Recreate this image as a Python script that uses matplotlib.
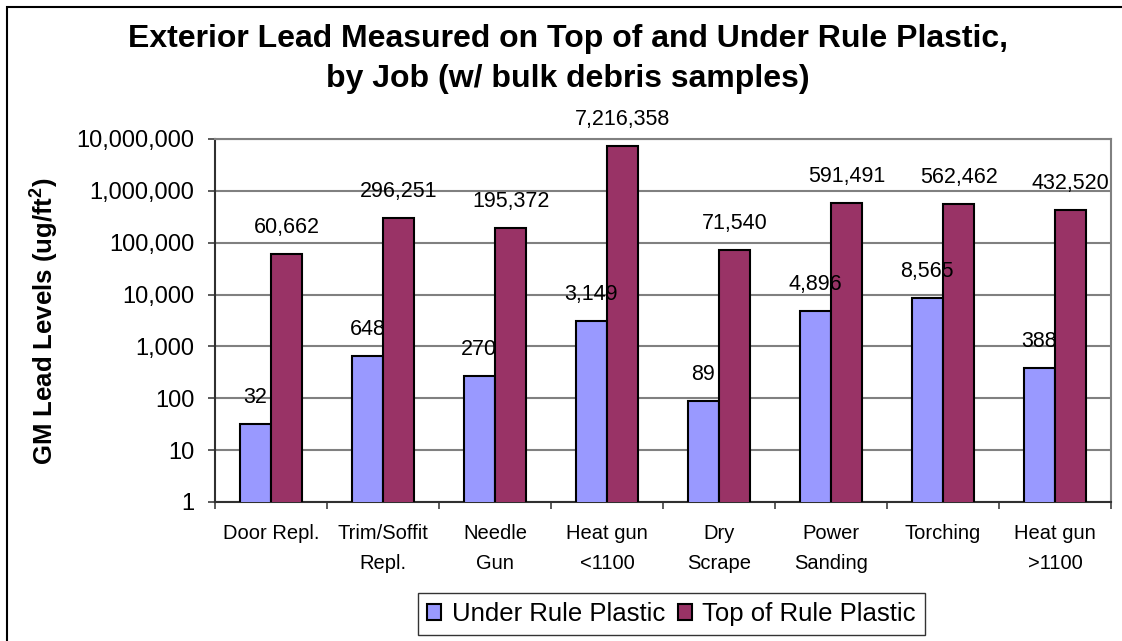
import numpy as np
import matplotlib
matplotlib.use('Agg')
import matplotlib.pyplot as plt
import matplotlib.patches as patches
from matplotlib.ticker import FuncFormatter, FixedLocator, NullFormatter

plt.rcParams['font.family'] = ['Liberation Sans', 'DejaVu Sans']
plt.rcParams['mathtext.fontset'] = 'custom'
plt.rcParams['mathtext.rm'] = 'Liberation Sans'
plt.rcParams['mathtext.bf'] = 'Liberation Sans:bold'

jobs = ["Door Repl.", "Trim/Soffit\nRepl.", "Needle\nGun", "Heat gun\n<1100",
        "Dry\nScrape", "Power\nSanding", "Torching", "Heat gun\n>1100"]
under_plastic = [32, 648, 270, 3149, 89, 4896, 8565, 388]
top_plastic = [60662, 296251, 195372, 7216358, 71540, 591491, 562462, 432520]

W, H = 1122, 641
fig = plt.figure(figsize=(W / 100, H / 100), dpi=100)
ax = fig.add_axes([215 / W, 1 - 502 / H, (1111 - 215) / W, (502 - 139) / H])

x = np.arange(len(jobs))
bw = 0.28
b1 = ax.bar(x - bw / 2, under_plastic, bw, color='#9999FF', edgecolor='black',
            linewidth=1.5, label='Under Rule Plastic', zorder=3)
b2 = ax.bar(x + bw / 2, top_plastic, bw, color='#993366', edgecolor='black',
            linewidth=1.5, label='Top of Rule Plastic', zorder=3)

for bars, vals in ((b1, under_plastic), (b2, top_plastic)):
    for b, v in zip(bars, vals):
        ax.annotate(f"{v:,}", (b.get_x() + b.get_width() / 2, v),
                    xytext=(0, 19), textcoords='offset points',
                    ha='center', va='center', fontsize=15.5, zorder=4)

ax.set_yscale('log')
ax.set_ylim(1, 1e7)
ax.set_xlim(-0.5, len(jobs) - 0.5)
ax.yaxis.set_major_locator(FixedLocator([10 ** i for i in range(8)]))
ax.yaxis.set_minor_locator(FixedLocator([]))
ax.yaxis.set_major_formatter(FuncFormatter(lambda v, p: f"{int(round(v)):,}"))
ax.tick_params(axis='y', labelsize=17, length=5, width=1.2, pad=10, color='#404040')
ax.grid(axis='y', color='#808080', linewidth=1.5, zorder=0)

ax.xaxis.set_major_locator(FixedLocator(np.arange(-0.5, len(jobs), 1.0)))
ax.xaxis.set_major_formatter(NullFormatter())
ax.xaxis.set_minor_locator(FixedLocator(x))
ax.set_xticklabels(jobs, minor=True, fontsize=14.5, linespacing=1.7, va='top')
ax.tick_params(axis='x', which='major', length=5, width=1.2, color='#404040')
ax.tick_params(axis='x', which='minor', length=0, pad=16)

for s in ('top', 'right'):
    ax.spines[s].set_color('#808080')
    ax.spines[s].set_linewidth(1.5)
for s in ('left', 'bottom'):
    ax.spines[s].set_color('#303030')
    ax.spines[s].set_linewidth(1.5)

fig.text(568 / W, 1 - 59 / H,
         "Exterior Lead Measured on Top of and Under Rule Plastic,\nby Job (w/ bulk debris samples)",
         ha='center', va='center', fontsize=23, fontweight='bold', linespacing=1.4)
fig.text(44 / W, 1 - 321 / H, r"GM Lead Levels (ug/ft$^{\mathbf{2}}$)",
         rotation=90, ha='center', va='center', fontsize=18.5, fontweight='bold')

leg = fig.legend(handles=[b1, b2], loc='center', bbox_to_anchor=(671.5 / W, 1 - 614 / H),
                 ncol=2, fontsize=18.5, frameon=True, fancybox=False,
                 handlelength=0.55, handleheight=0.55, handletextpad=0.4,
                 columnspacing=0.5, borderpad=0.35, borderaxespad=0,
                 edgecolor='black')
leg.get_frame().set_linewidth(1.0)

fig.patches.append(patches.Rectangle((7 / W, -0.1), 1.2, 1 - 7 / H + 0.1,
                                     transform=fig.transFigure, fill=False,
                                     edgecolor='black', linewidth=1.5))

fig.savefig("out.png", dpi=100)
